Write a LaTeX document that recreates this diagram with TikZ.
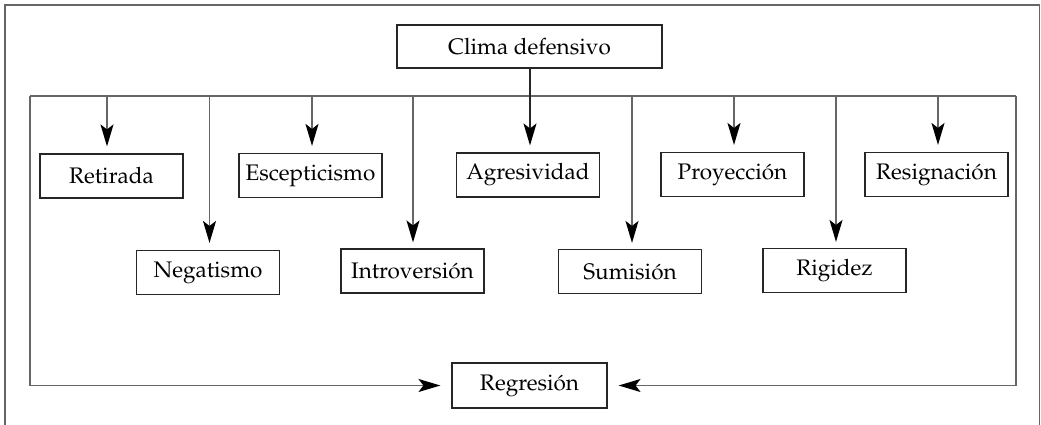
\documentclass[tikz,border=0pt]{standalone}
\usepackage[T1]{fontenc}
\usepackage{mathpazo}
\usetikzlibrary{arrows.meta}
\begin{document}
\begin{tikzpicture}[x=1pt,y=-1pt,
  box/.style={draw=black!85,line width=1.1pt,minimum width=143pt,minimum height=44pt,inner sep=0pt,font=\fontsize{22.5}{26}\selectfont},
  conn/.style={draw=black!60,line width=1.6pt},
  arr/.style={conn,-{Stealth[length=22pt,width=13pt,inset=5pt,black]}}]
\useasboundingbox (0,0) rectangle (1041,425);
% outer frame (open at the bottom)
\draw[conn] (5,440) -- (5,5) -- (1039.5,5) -- (1039.5,440);
% nodes
\node[box,minimum width=265pt,minimum height=43pt] (clima) at (529.5,46.5) {Clima defensivo};
\node[box] (ret) at (111.5,176) {Retirada};
\node[box] (esc) at (310.5,175.5) {Escepticismo};
\node[box] (agr) at (528,175) {Agresividad};
\node[box] (pro) at (732.5,174.5) {Proyecci\'on};
\node[box] (res) at (936.5,174.5) {Resignaci\'on};
\node[box] (neg) at (208,272.5) {Negatismo};
\node[box] (int) at (412.5,271) {Introversi\'on};
\node[box] (sum) at (630,271.5) {Sumisi\'on};
\node[box] (rig) at (834.5,270.5) {Rigidez};
\node[box,minimum width=155pt,minimum height=45pt] (reg) at (529.5,385.5) {Regresi\'on};
% bus
\coordinate (bl) at (30,96);
\coordinate (br) at (1016,96);
\draw[conn] (bl) -- (br);
% taps
\coordinate (t1) at (107,96);
\coordinate (t2) at (209.5,96);
\coordinate (t3) at (312,96);
\coordinate (t4) at (413,96);
\coordinate (t5) at (632,96);
\coordinate (t6) at (734,96);
\coordinate (t7) at (836,96);
\coordinate (t8) at (938,96);
\draw[arr,shorten >=7pt] (t1) -- (t1 |- ret.north);
\draw[arr,shorten >=7pt] (t2) -- (t2 |- neg.north);
\draw[arr,shorten >=7pt] (t3) -- (t3 |- esc.north);
\draw[arr,shorten >=6pt] (t4) -- (t4 |- int.north);
\draw[arr,shorten >=7pt,draw=black!85,line width=1.4pt] (clima.south -| 530,0) -- (agr.north -| 530,0);
\draw[arr,shorten >=6pt] (t5) -- (t5 |- sum.north);
\draw[arr,shorten >=7pt] (t6) -- (t6 |- pro.north);
\draw[arr,shorten >=6pt] (t7) -- (t7 |- rig.north);
\draw[arr,shorten >=7pt] (t8) -- (t8 |- res.north);
% loops to Regresion
\draw[arr,shorten >=11pt] (bl) -- (bl |- reg.west) -- (reg.west);
\draw[arr,shorten >=11pt] (br) -- (br |- reg.east) -- (reg.east);
\end{tikzpicture}
\end{document}
